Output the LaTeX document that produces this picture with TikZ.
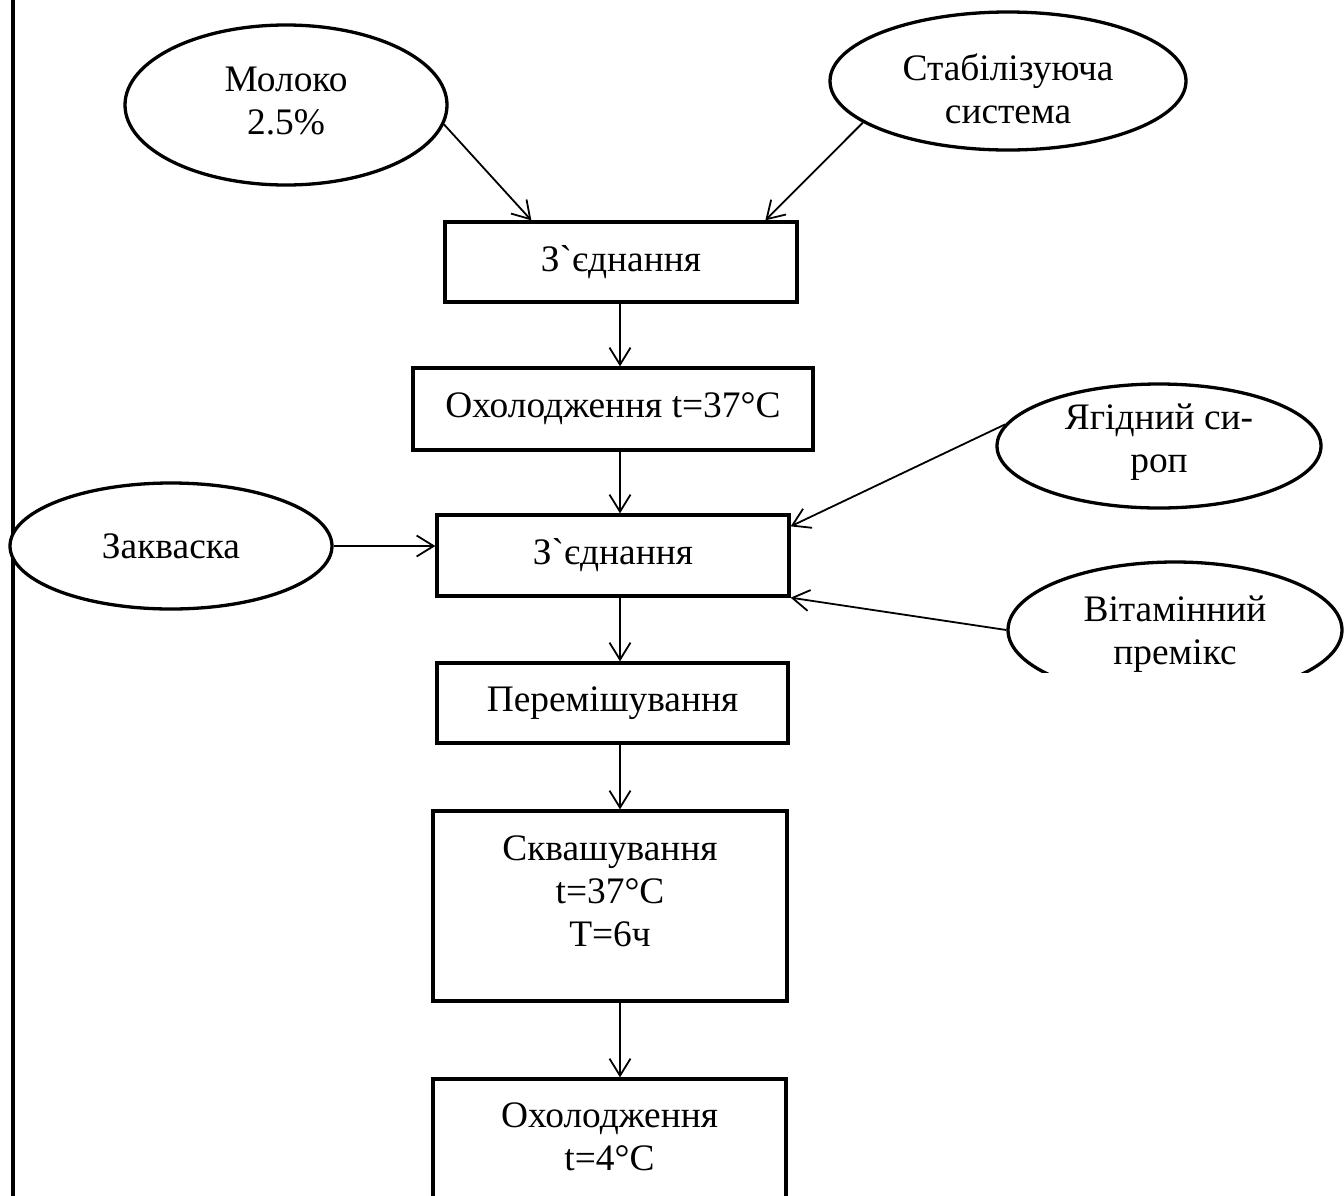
\documentclass[tikz,border=0pt]{standalone}
\usepackage{fontspec}
\setmainfont{Liberation Serif}[Ligatures=TeXOff]
\usetikzlibrary{arrows.meta,shapes.geometric,calc}
\newcommand\diagfont{\fontsize{18.7pt}{21.5pt}\selectfont}
\begin{document}
\begin{tikzpicture}[x=0.5pt,y=-0.5pt,
  box/.style={draw,line width=1.65pt,rectangle,inner sep=0pt,align=center,font=\diagfont,fill=white},
  oval/.style={draw,line width=1.65pt,ellipse,inner sep=0pt,align=center,font=\diagfont,fill=white},
  flow/.style={line width=0.9pt,-{Straight Barb[length=8.5pt,width=10.5pt,line width=0.9pt]}},
  lbl/.style={font=\diagfont,align=center,inner sep=0pt}
]
\useasboundingbox (0,0) rectangle (1344,1195);
\clip (0,0) rectangle (1344,1195);

% left margin line
\draw[line width=2pt] (13,-5) -- (13,1200);

% column of the vertical flow
\coordinate (ax) at (620,0);

% inputs
\node[oval,minimum width=161pt,minimum height=80pt] (milk) at (286,105) {};
\node[lbl] (milktxt) at (286,101) {Молоко\\2.5\%};
\node[oval,minimum width=178pt,minimum height=69pt] (stab) at (1008,81) {};
\node[lbl] (stabtxt) at (1008,89) {Стабілізуюча\\система};
\node[oval,minimum width=161pt,minimum height=63pt] (zak) at (171,546) {Закваска};
\node[oval,minimum width=162pt,minimum height=62pt] (yag) at (1159,446) {};
\node[lbl] (yagtxt) at (1159,442) {Ягідний си-\\роп};
\begin{scope}
  \clip (880,540) rectangle (1344,672);
  \node[oval,minimum width=167pt,minimum height=68pt] (vit) at (1175,630) {};
  \node[lbl] (vittxt) at (1175,634) {Вітамінний\\премікс};
\end{scope}

% process steps
\node[box,minimum width=176pt,minimum height=40pt] (box1) at (621,262) {З\symbol{96}єднання};
\node[box,minimum width=200pt,minimum height=41pt] (box2) at (613,409) {Охолодження t=37°C};
\node[box,minimum width=176pt,minimum height=40.5pt] (box3) at (613,555.5) {З\symbol{96}єднання};
\node[box,minimum width=175.5pt,minimum height=40pt] (box4) at (612.5,703) {Перемішування};
\node[box,minimum width=177pt,minimum height=95pt] (box5) at (610,906) {};
\node[lbl] (sqtxt) at (610,891) {Сквашування\\t=37°C\\T=6ч};
\node[box,minimum width=176.5pt,minimum height=61pt] (box6) at (609.5,1140) {};
\node[lbl] (coltxt) at (609.5,1137) {Охолодження\\t=4°C};

% connectors
\draw[flow] (milk.-7) -- ($(box1.north west)+(88,0)$);
\draw[flow] (stab.196) -- ($(box1.north west)+(322,0)$);
\draw[flow] (box1.south -| ax) -- (box2.north -| ax);
\draw[flow] (box2.south -| ax) -- (box3.north -| ax);
\draw[flow] (zak.east) -- (zak.east -| box3.west);
\draw[flow] (yag.172) -- ($(box3.north east)+(0,13)$);
\draw[flow] (vit.west) -- (box3.south east);
\draw[flow] (box3.south -| ax) -- (box4.north -| ax);
\draw[flow] (box4.south -| ax) -- (box5.north -| ax);
\draw[flow] (box5.south -| ax) -- (box6.north -| ax);
\end{tikzpicture}
\end{document}
